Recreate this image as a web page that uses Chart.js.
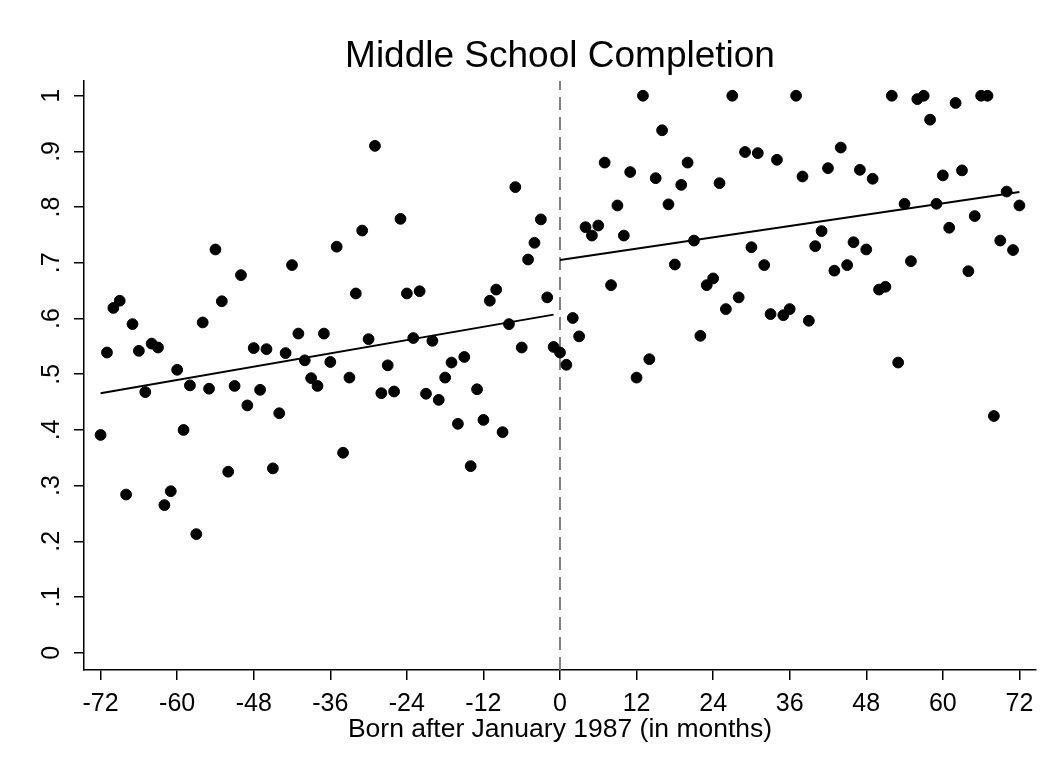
<!DOCTYPE html>
<html>
<head>
<meta charset="utf-8">
<title>Middle School Completion</title>
<script src="https://cdn.jsdelivr.net/npm/chart.js@4.4.1/dist/chart.umd.min.js"></script>
<style>
  html, body { margin: 0; padding: 0; background: #fff; }
  canvas { display: block; }
</style>
</head>
<body>
<canvas id="rdChart" width="1054" height="769"></canvas>
<script>
// months relative to January 1987
const monthsBefore = [-72, -71, -70, -69, -68, -67, -66, -65, -64, -63, -62, -61,
  -60, -59, -58, -57, -56, -55, -54, -53, -52, -51, -50, -49,
  -48, -47, -46, -45, -44, -43, -42, -41, -40, -39, -38, -37,
  -36, -35, -34, -33, -32, -31, -30, -29, -28, -27, -26, -25,
  -24, -23, -22, -21, -20, -19, -18, -17, -16, -15, -14, -13,
  -12, -11, -10, -9, -8, -7, -6, -5, -4, -3, -2, -1];
const rateBefore = [0.391, 0.539, 0.619, 0.632, 0.284, 0.590, 0.542, 0.468, 0.555, 0.548, 0.265, 0.290,
  0.508, 0.400, 0.480, 0.213, 0.593, 0.474, 0.724, 0.631, 0.325, 0.479, 0.678, 0.444,
  0.547, 0.472, 0.545, 0.331, 0.430, 0.538, 0.696, 0.573, 0.525, 0.493, 0.479, 0.573,
  0.522, 0.729, 0.359, 0.494, 0.645, 0.758, 0.563, 0.910, 0.466, 0.516, 0.469, 0.779,
  0.645, 0.565, 0.649, 0.465, 0.560, 0.454, 0.494, 0.521, 0.411, 0.531, 0.335, 0.473,
  0.418, 0.632, 0.652, 0.396, 0.590, 0.836, 0.548, 0.706, 0.736, 0.778, 0.638, 0.549];

const monthsAfter = [0, 1, 2, 3, 4, 5, 6, 7, 8, 9, 10, 11,
  12, 13, 14, 15, 16, 17, 18, 19, 20, 21, 22, 23,
  24, 25, 26, 27, 28, 29, 30, 31, 32, 33, 34, 35,
  36, 37, 38, 39, 40, 41, 42, 43, 44, 45, 46, 47,
  48, 49, 50, 51, 52, 53, 54, 55, 56, 57, 58, 59,
  60, 61, 62, 63, 64, 65, 66, 67, 68, 69, 70, 71, 72];
const rateAfter = [0.539, 0.517, 0.601, 0.568, 0.764, 0.749, 0.767, 0.880, 0.660, 0.803, 0.749, 0.863,
  0.494, 1.000, 0.527, 0.852, 0.938, 0.805, 0.697, 0.840, 0.880, 0.740, 0.569, 0.660,
  0.672, 0.843, 0.617, 1.000, 0.638, 0.899, 0.728, 0.897, 0.696, 0.608, 0.885, 0.606,
  0.617, 1.000, 0.855, 0.596, 0.730, 0.757, 0.870, 0.686, 0.907, 0.696, 0.737, 0.867,
  0.724, 0.851, 0.652, 0.657, 1.000, 0.521, 0.806, 0.703, 0.994, 1.000, 0.957, 0.806,
  0.857, 0.763, 0.987, 0.866, 0.685, 0.784, 1.000, 1.000, 0.425, 0.740, 0.828, 0.723, 0.803];

// linear fits on each side of the cutoff (end points)
const fitBeforeX = [-72, -1];
const fitBeforeY = [0.466, 0.607];
const fitAfterX = [0, 72];
const fitAfterY = [0.705, 0.827];

const xTicks = [-72, -60, -48, -36, -24, -12, 0, 12, 24, 36, 48, 60, 72];
const xTickLabels = ['-72', '-60', '-48', '-36', '-24', '-12', '0', '12', '24', '36', '48', '60', '72'];
const yTicks = [0, 0.1, 0.2, 0.3, 0.4, 0.5, 0.6, 0.7, 0.8, 0.9, 1];
const yTickLabels = ['0', '.1', '.2', '.3', '.4', '.5', '.6', '.7', '.8', '.9', '1'];

const cutoff = 0;
const xMin = -74.6, xMax = 74.6;
const yMin = -0.031, yMax = 1.027;

const toPoints = (xs, ys) => xs.map((x, i) => ({ x: x, y: ys[i] }));
const FONT = 'Liberation Sans, Arial, Helvetica, sans-serif';

new Chart(document.getElementById('rdChart'), {
  type: 'scatter',
  data: {
    datasets: [
      {
        label: 'before',
        data: toPoints(monthsBefore, rateBefore),
        backgroundColor: '#000',
        borderColor: '#000',
        borderWidth: 1,
        pointRadius: 5.4,
        order: 1
      },
      {
        label: 'after',
        data: toPoints(monthsAfter, rateAfter),
        backgroundColor: '#000',
        borderColor: '#000',
        borderWidth: 1,
        pointRadius: 5.4,
        order: 1
      },
      {
        label: 'fit before',
        data: toPoints(fitBeforeX, fitBeforeY),
        showLine: true,
        borderColor: '#000',
        borderWidth: 2,
        pointRadius: 0,
        order: 2
      },
      {
        label: 'fit after',
        data: toPoints(fitAfterX, fitAfterY),
        showLine: true,
        borderColor: '#000',
        borderWidth: 2,
        pointRadius: 0,
        order: 2
      },
      {
        label: 'cutoff',
        data: [{ x: cutoff, y: yMin }, { x: cutoff, y: yMax }],
        showLine: true,
        borderColor: '#808080',
        borderWidth: 2,
        borderDash: [13, 7],
        pointRadius: 0,
        order: 3
      }
    ]
  },
  options: {
    responsive: false,
    animation: false,
    layout: { padding: { left: 0, right: 18, top: 0, bottom: 0 } },
    plugins: {
      legend: { display: false },
      tooltip: { enabled: false },
      title: {
        display: true,
        fullSize: false,
        text: 'Middle School Completion',
        color: '#000',
        font: { family: FONT, size: 37, weight: 'normal' },
        padding: { top: 35, bottom: 1.3 }
      }
    },
    scales: {
      x: {
        type: 'linear',
        min: xMin,
        max: xMax,
        afterBuildTicks: s => { s.ticks = xTicks.map(v => ({ value: v })); },
        afterFit: s => { s.height = 99; },
        border: { display: true, color: '#000', width: 1.5 },
        grid: { drawOnChartArea: false, drawTicks: true, tickLength: 10, color: '#000', lineWidth: 1.5 },
        ticks: {
          autoSkip: false,
          maxRotation: 0,
          padding: 9,
          color: '#000',
          font: { family: FONT, size: 25 },
          callback: (v, i) => xTickLabels[i]
        },
        title: {
          display: true,
          text: 'Born after January 1987 (in months)',
          color: '#000',
          font: { family: FONT, size: 26.5 },
          padding: { top: 0, bottom: 23.5 }
        }
      },
      y: {
        type: 'linear',
        min: yMin,
        max: yMax,
        afterBuildTicks: s => { s.ticks = yTicks.map(v => ({ value: v })); },
        afterFit: s => { s.width = 84; },
        border: { display: true, color: '#000', width: 1.5 },
        grid: { drawOnChartArea: false, drawTicks: true, tickLength: 10, color: '#000', lineWidth: 1.5 },
        ticks: {
          minRotation: 90,
          maxRotation: 90,
          crossAlign: 'center',
          padding: 11,
          color: '#000',
          font: { family: FONT, size: 25 },
          callback: (v, i) => yTickLabels[i]
        }
      }
    }
  }
});
</script>
</body>
</html>
